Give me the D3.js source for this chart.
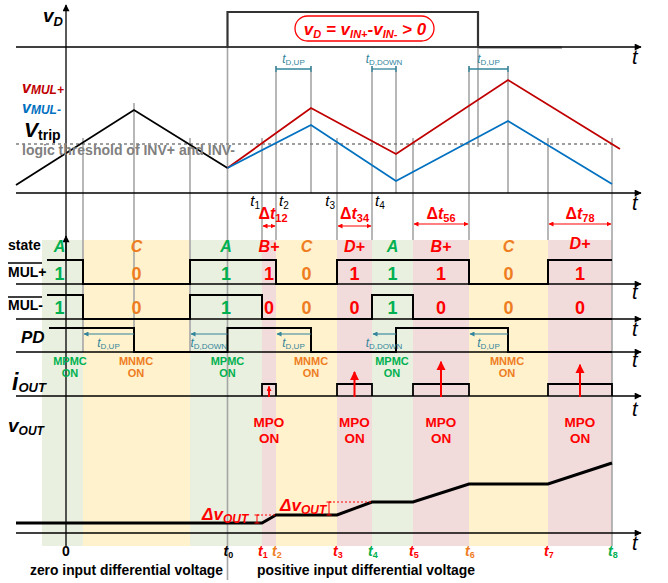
<!DOCTYPE html>
<html><head><meta charset="utf-8">
<script src="https://cdn.jsdelivr.net/npm/d3@7"></script>
<style>body{margin:0;background:#fff}svg{display:block;font-family:"Liberation Sans",Arial,sans-serif}</style>
</head><body><svg id="c" width="668" height="583"></svg>
<script>
// ---------------- data (time in arbitrary units, 0 = origin) ----------------
const timeDomain = [-50, 574];
const stateNames = ["A","C","A","B+","C","D+","A","B+","C","D+"];
const stateEdges = [-24, 17, 124, 196, 210, 271, 306, 347, 403, 482, 546];
const mulPlus  = [1,0,1,1,0,1,1,1,0,1];
const mulMinus = [1,0,1,0,0,0,1,0,0,0];
const mulStart = -19;
const pdEdges  = [-17, 68, 161.5, 245, 330, 442, 546];
const pdLevels = [1,0,1,0,1,0];
const tDIntervals = [[17,68],[124,161.5],[210,245],[306,330],[403,442]];
const tDNames     = ["D,UP","D,DOWN","D,UP","D,DOWN","D,UP"];
const switchLabels = ["MPMC","MNMC","MPMC","MNMC","MPMC","MNMC"];
const switchTimes  = [-3, 70, 161.5, 245, 326, 441];
const vdHigh = [161.5, 412];
const triBlack = [[-50,8],[68,83],[161.5,25]];
const triPlus  = [[161.5,25],[245,85],[330,39],[442,113],[554,44]];
const triMinus = [[161.5,25],[245,68],[330,12],[442,72],[546,9]];
const vTrip = 49;
const ioutPulses = [[196,210],[271,306],[347,403],[482,546]];
const ioutArrowHeights = [0.8, 2.0, 2.85, 2.6];
const deltaTNames = ["12","34","56","78"];
const voutPoints = [[-50,10],[196,10],[210,18],[271,18],[306,31],[347,31],[403,49],[482,49],[546,70]];
const tickTimes  = [0, 161.5, 196, 210, 271, 306, 347, 403, 482, 546];
const tickLabels = ["0","0","1","2","3","4","5","6","7","8"];
const tickStates = ["","","B+","C","D+","A","B+","C","D+","A"];
const midTickTimes = [196,210,271,306];
const midTickLabels = ["1","2","3","4"];
const gridTimes = [17,68,124,161.5,196,210,245,271,306,330,347,403,412,442,482,546];

// ---------------- scales ----------------
const svg = d3.select("#c");
const x = d3.scaleLinear().domain(timeDomain).range([16, 640]);
const vdY  = d3.scaleLinear().domain([0,1]).range([47,12]);
const triY = d3.scaleLinear().domain([0,100]).range([193,93]);
const mpY  = d3.scaleLinear().domain([0,1]).range([284,260]);
const mmY  = d3.scaleLinear().domain([0,1]).range([319,295]);
const pdY  = d3.scaleLinear().domain([0,1]).range([352,328]);
const ioY  = d3.scaleLinear().domain([0,1]).range([396,384]);
const voY  = d3.scaleLinear().domain([0,100]).range([533,433]);
const bandTop = 240, bandBottom = 546;

const stateColor = {"A":"#00b050","C":"#ee7d22","B+":"#ff0000","D+":"#ff0000","":"#000"};
const bandColor  = {"A":"#e9f0df","C":"#fff2cc","B+":"#f2dcdb","D+":"#f2dcdb"};
const teal = "#31849b";

// markers
const defs = svg.append("defs");
function mk(id, color, w, h, refX) {
  defs.append("marker").attr("id", id).attr("viewBox","0 0 10 10").attr("refX", refX).attr("refY",5)
    .attr("markerWidth", w).attr("markerHeight", h).attr("markerUnits","userSpaceOnUse").attr("orient","auto-start-reverse")
    .append("path").attr("d","M0,0L10,5L0,10z").attr("fill", color);
}
mk("axArr", "#000", 9, 7, 9);
mk("tealArr", teal, 6, 5, 9);
mk("redArr", "#ff0000", 5, 5, 9);
mk("redBig", "#ff0000", 9, 10, 9);

// rich text helper
function rich(x0, y0, parts, o) {
  const t = svg.append("text").attr("x", x0).attr("y", y0)
    .attr("font-size", o.size).attr("fill", o.fill || "#000")
    .attr("font-weight", o.weight || "normal").attr("font-style", o.style || "normal")
    .attr("text-anchor", o.anchor || "start");
  const shift = o.shift != null ? o.shift : o.size * 0.3;
  let inSub = false;
  parts.forEach(p => {
    const isSub = Array.isArray(p);
    const s = isSub ? p[0] : (typeof p === "object" ? p.t : p);
    const ts = t.append("tspan").text(s);
    if (!isSub && typeof p === "object") ts.attr("font-style", p.style);
    if (isSub) { ts.attr("font-size", o.subSize || o.size * 0.65); ts.attr("font-style", o.subStyle || o.style || "normal"); }
    if (isSub && !inSub) ts.attr("dy", shift);
    if (!isSub && inSub) ts.attr("dy", -shift);
    inSub = isSub;
  });
  return t;
}

// ---------------- bands ----------------
stateNames.forEach((s, i) => {
  svg.append("rect").attr("x", x(stateEdges[i])).attr("y", bandTop)
    .attr("width", x(stateEdges[i+1]) - x(stateEdges[i])).attr("height", bandBottom - bandTop)
    .attr("fill", bandColor[s]);
});

// ---------------- grid lines ----------------
const topMarkers = tDIntervals.slice(2);
const topMarkerEnds = new Set(topMarkers.flat());
const peaks = new Set([245,330,442]);
gridTimes.forEach(t => {
  let y1 = 138, y2 = bandTop;
  if (topMarkerEnds.has(t)) y1 = 66;
  if (t === vdHigh[0] || t === vdHigh[1]) y1 = vdY(0);
  if (t === 68) y1 = 103;
  if (t < vdHigh[0]) y2 = pdY(0);
  if (t === vdHigh[0]) y2 = 580;
  if (t === vdHigh[1]) y2 = 147;
  if (peaks.has(t)) y2 = triY(0);
  if (t === 546) y2 = bandBottom;
  svg.append("line").attr("x1", x(t)).attr("x2", x(t)).attr("y1", y1).attr("y2", y2)
    .attr("stroke", "#a6a6a6").attr("stroke-width", 1.6);
});

// ---------------- axes ----------------
function hAxis(y) {
  svg.append("line").attr("x1", 16).attr("x2", 641).attr("y1", y).attr("y2", y)
    .attr("stroke", "#000").attr("stroke-width", 1.4).attr("marker-end", "url(#axArr)");
}
svg.append("line").attr("x1", x(vdHigh[1])).attr("x2", 562).attr("y1", vdY(0)+0.5).attr("y2", vdY(0)+0.5)
  .attr("stroke", "#b0b0b0").attr("stroke-width", 3);
[vdY(0), triY(0), mpY(0), mmY(0), pdY(0), ioY(0), voY(0)].forEach(hAxis);
[[vdY(0),64],[triY(0),210],[mpY(0),299],[mmY(0),336],[pdY(0),367],[ioY(0),416],[voY(0),550]].forEach(d => {
  svg.append("text").attr("x", 632).attr("y", d[1]).attr("font-size", 20).attr("font-style","italic").text("t");
});
svg.append("line").attr("x1", x(0)).attr("x2", x(0)).attr("y1", bandBottom).attr("y2", 5)
  .attr("stroke", "#000").attr("stroke-width", 1.3).attr("marker-end", "url(#axArr)");
svg.append("line").attr("x1", x(0)).attr("x2", x(0)).attr("y1", 260).attr("y2", 236)
  .attr("stroke", "#000").attr("stroke-width", 1.3).attr("marker-end", "url(#axArr)");

// ---------------- vD ----------------
svg.append("path").attr("fill","none").attr("stroke","#333").attr("stroke-width",2.2)
  .attr("d", d3.line()([[x(vdHigh[0]), vdY(0)],[x(vdHigh[0]), vdY(1)],[x(vdHigh[1]), vdY(1)],[x(vdHigh[1]), vdY(0)]]));
svg.append("rect").attr("x", 295).attr("y", 16).attr("width", 139).attr("height", 25).attr("rx", 12.5)
  .attr("fill", "#fff").attr("stroke", "#ff0000").attr("stroke-width", 1.3);
rich(365, 35, ["v",["D"]," = v",["IN+"],"-v",["IN-"]," > 0"], {size:17, subSize:11, fill:"#ff0000", weight:"bold", style:"italic", anchor:"middle", shift:3});
rich(43, 22, ["v",["D"]], {size:19, subSize:13, weight:"bold", style:"italic", shift:4});

// ---------------- triangle ----------------
const tl = d3.line().x(d => x(d[0])).y(d => triY(d[1]));
svg.append("line").attr("x1", x(-50)).attr("x2", x(546)).attr("y1", triY(vTrip)).attr("y2", triY(vTrip))
  .attr("stroke", "#7f7f7f").attr("stroke-width", 1.5).attr("stroke-dasharray", "3,3");
svg.append("path").attr("d", tl(triBlack)).attr("fill","none").attr("stroke","#000").attr("stroke-width",1.8);
svg.append("path").attr("d", tl(triPlus)).attr("fill","none").attr("stroke","#c00000").attr("stroke-width",1.8);
svg.append("path").attr("d", tl(triMinus)).attr("fill","none").attr("stroke","#0070c0").attr("stroke-width",1.8);
rich(22, 93, ["v",["MUL+"]], {size:16, subSize:12, fill:"#c00000", weight:"bold", style:"italic", shift:1});
rich(22, 113, ["v",["MUL-"]], {size:16, subSize:12, fill:"#0070c0", weight:"bold", style:"italic", shift:1});
rich(24, 137, ["V",["trip"]], {size:21, subSize:14, weight:"bold", style:"italic", subStyle:"normal", shift:3});
svg.append("text").attr("x", 22).attr("y", 155).attr("font-size", 14).attr("font-weight","bold")
  .attr("fill", "#808080").attr("textLength", 213).attr("lengthAdjust","spacingAndGlyphs")
  .text("logic threshold of INV+ and INV-");

// top tD markers
topMarkers.forEach((iv, k) => {
  const name = tDNames[k+2];
  const y = 69;
  svg.append("line").attr("x1", x(iv[0])).attr("x2", x(iv[1])).attr("y1", y).attr("y2", y).attr("stroke", teal).attr("stroke-width", 1.3);
  [iv[0], iv[1]].forEach(t => svg.append("line").attr("x1", x(t)).attr("x2", x(t)).attr("y1", y-3).attr("y2", y+3).attr("stroke", teal).attr("stroke-width", 1.3));
  rich((x(iv[0])+x(iv[1]))/2, 63, ["t",[name]], {size:12, subSize:8, fill:teal, style:"italic", subStyle:"normal", anchor:"middle", shift:2});
});

// mid t labels and Δt arrows
midTickTimes.forEach((t, i) => {
  const odd = i % 2 === 0;
  rich(x(t) + (odd ? -2 : 3), 206, ["t",[midTickLabels[i]]], {size:15, subSize:10, style:"italic", subStyle:"normal", anchor: odd ? "end" : "start", shift:3});
});
ioutPulses.forEach((iv, i) => {
  const y = i < 2 ? 226 : 224;
  svg.append("line").attr("x1", x(iv[0])+1).attr("x2", x(iv[1])-1).attr("y1", y).attr("y2", y)
    .attr("stroke", "#ff0000").attr("stroke-width", 1.2).attr("marker-start","url(#redArr)").attr("marker-end","url(#redArr)");
  rich((x(iv[0])+x(iv[1]))/2 + (i===0 ? 4 : 0), 219, ["Δ",{t:"t",style:"italic"},[deltaTNames[i]]], {size:16, subSize:11, fill:"#ff0000", weight:"bold", anchor:"middle", shift:3});
});

// ---------------- state row ----------------
svg.append("text").attr("x", 8).attr("y", 250).attr("font-size", 14).attr("font-weight","bold").text("state");
stateNames.forEach((s, i) => {
  const cx = (x(stateEdges[i]) + x(stateEdges[i+1]))/2 + (i===0 ? -3 : 0);
  const y = (i === 9) ? 249 : 252;
  svg.append("text").attr("x", cx).attr("y", y).attr("text-anchor","middle").attr("font-size", 16)
    .attr("font-weight","bold").attr("font-style","italic").attr("fill", stateColor[s]).text(s);
  svg.append("text").attr("x", cx).attr("y", 280).attr("text-anchor","middle").attr("font-size", 18)
    .attr("font-weight","bold").attr("fill", stateColor[s]).text(mulPlus[i]);
  svg.append("text").attr("x", cx).attr("y", 314).attr("text-anchor","middle").attr("font-size", 18)
    .attr("font-weight","bold").attr("fill", stateColor[s]).text(mulMinus[i]);
});

function stepPts(edges, levels, y) {
  const pts = [];
  levels.forEach((l, i) => { pts.push([x(edges[i]), y(l)]); pts.push([x(edges[i+1]), y(l)]); });
  return pts;
}
const mpEdges = [mulStart].concat(stateEdges.slice(1));
[[mpEdges, mulPlus, mpY],[mpEdges, mulMinus, mmY],[pdEdges, pdLevels, pdY]].forEach(d => {
  svg.append("path").attr("d", d3.line()(stepPts(d[0], d[1], d[2]))).attr("fill","none")
    .attr("stroke","#000").attr("stroke-width",2);
});
svg.append("text").attr("x", 8).attr("y", 277).attr("font-size", 14).attr("font-weight","bold").text("MUL+");
svg.append("line").attr("x1", 8).attr("x2", 42).attr("y1", 263).attr("y2", 263).attr("stroke","#000").attr("stroke-width",1.3);
svg.append("text").attr("x", 8).attr("y", 310).attr("font-size", 14).attr("font-weight","bold").text("MUL-");
svg.append("line").attr("x1", 8).attr("x2", 42).attr("y1", 297).attr("y2", 297).attr("stroke","#000").attr("stroke-width",1.3);
svg.append("text").attr("x", 21).attr("y", 343).attr("font-size", 17).attr("font-weight","bold").attr("font-style","italic").text("PD");

tDIntervals.forEach((iv, i) => {
  const y = 334;
  svg.append("line").attr("x1", x(iv[1])).attr("x2", x(iv[0])+1).attr("y1", y).attr("y2", y)
    .attr("stroke", teal).attr("stroke-width", 1.1).attr("marker-end","url(#tealArr)");
  rich((x(iv[0])+x(iv[1]))/2, 347, ["t",[tDNames[i]]], {size:12, subSize:8, fill:teal, style:"italic", subStyle:"normal", anchor:"middle", shift:2});
});

switchLabels.forEach((s, i) => {
  const col = s === "MPMC" ? "#00b050" : "#ee7d22";
  const cx = x(switchTimes[i]) + (i === 0 ? 7 : 0);
  svg.append("text").attr("x", cx).attr("y", 365).attr("text-anchor","middle").attr("font-size", 11).attr("font-weight","bold").attr("fill", col).text(s);
  svg.append("text").attr("x", cx).attr("y", 377).attr("text-anchor","middle").attr("font-size", 11).attr("font-weight","bold").attr("fill", col).text("ON");
});

// ---------------- iOUT ----------------
rich(12, 390, ["i",["OUT"]], {size:23, subSize:13, weight:"bold", style:"italic", shift:2});
ioutPulses.forEach((iv, i) => {
  svg.append("path").attr("fill","none").attr("stroke","#000").attr("stroke-width",1.8)
    .attr("d", d3.line()([[x(iv[0]), ioY(0)],[x(iv[0]), ioY(1)],[x(iv[1]), ioY(1)],[x(iv[1]), ioY(0)]]));
  const cx = (x(iv[0]) + x(iv[1]))/2;
  svg.append("line").attr("x1", cx).attr("x2", cx).attr("y1", ioY(0)+1).attr("y2", ioY(ioutArrowHeights[i]))
    .attr("stroke","#ff0000").attr("stroke-width", 2).attr("marker-end", i===0 ? "url(#redArr)" : "url(#redBig)");
  svg.append("text").attr("x", cx).attr("y", 427).attr("text-anchor","middle").attr("font-size", 13.5).attr("font-weight","bold").attr("fill","#ff0000").text("MPO");
  svg.append("text").attr("x", cx).attr("y", 443).attr("text-anchor","middle").attr("font-size", 13.5).attr("font-weight","bold").attr("fill","#ff0000").text("ON");
});

// ---------------- vOUT ----------------
rich(8, 432, ["v",["OUT"]], {size:19, subSize:12, weight:"bold", style:"italic", shift:3});
const vl = d3.line().x(d => x(d[0])).y(d => voY(d[1]));
svg.append("path").attr("d", vl(voutPoints)).attr("fill","none").attr("stroke","#000").attr("stroke-width",3);
function dv(t0, t1, lvLow, lvHigh) {
  svg.append("line").attr("x1", x(t0)).attr("x2", x(t1)).attr("y1", voY(lvHigh)).attr("y2", voY(lvHigh))
    .attr("stroke","#ff0000").attr("stroke-width",1).attr("stroke-dasharray","2,2");
  svg.append("line").attr("x1", x(t0)).attr("x2", x(t0)).attr("y1", voY(lvHigh)).attr("y2", voY(lvLow)).attr("stroke","#ff0000").attr("stroke-width",1);
  [lvHigh, lvLow].forEach(l => svg.append("line").attr("x1", x(t0)-2.5).attr("x2", x(t0)+2.5).attr("y1", voY(l)).attr("y2", voY(l)).attr("stroke","#ff0000").attr("stroke-width",1));
}
dv(191, 210, voutPoints[1][1], voutPoints[2][1]);
dv(263, 306, voutPoints[3][1], voutPoints[4][1]);
rich(202, 520, ["Δv",["OUT"]], {size:17, subSize:12, fill:"#ff0000", weight:"bold", style:"italic", shift:3});
rich(280, 511, ["Δv",["OUT"]], {size:17, subSize:12, fill:"#ff0000", weight:"bold", style:"italic", shift:3});

tickTimes.forEach((t, i) => {
  const col = stateColor[tickStates[i]];
  if (i === 0) {
    svg.append("text").attr("x", x(t)).attr("y", 556).attr("text-anchor","middle").attr("font-size", 14).attr("font-weight","bold").text("0");
  } else {
    rich(x(t) - 4, 556, ["t",[tickLabels[i]]], {size:14, subSize:9, fill:col, weight:"bold", style:"italic", subStyle:"normal", shift:2});
  }
});
svg.append("text").attr("x", 30).attr("y", 575).attr("font-size", 15).attr("font-weight","bold")
  .attr("textLength", 193).attr("lengthAdjust","spacingAndGlyphs").text("zero input differential voltage");
svg.append("text").attr("x", 257).attr("y", 575).attr("font-size", 15).attr("font-weight","bold")
  .attr("textLength", 218).attr("lengthAdjust","spacingAndGlyphs").text("positive input differential voltage");
</script></body></html>
